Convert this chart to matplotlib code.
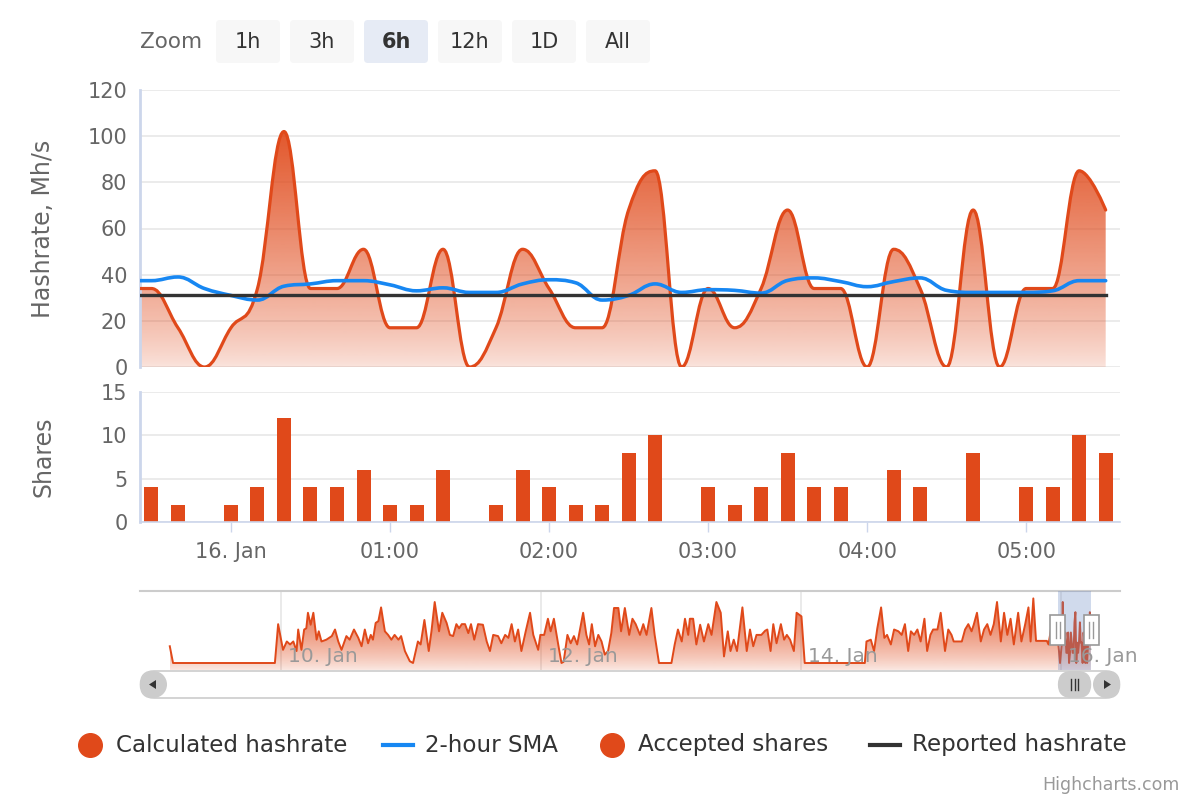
import numpy as np
import matplotlib
matplotlib.use("Agg")
import matplotlib.pyplot as plt
from matplotlib.path import Path
from matplotlib.patches import PathPatch, FancyBboxPatch, Rectangle, Circle, Polygon
from matplotlib.colors import to_rgb

plt.rcParams["font.family"] = ["DejaVu Sans"]

ORANGE = "#e0491a"
BLUE = "#1787f2"
DARK = "#333333"
AXIS_BLUE = "#ccd6eb"
GRID = "#e6e6e6"
LABEL = "#666666"

# 10-minute samples around 16 Jan
times = ["23:20", "23:30", "23:40", "23:50", "00:00", "00:10", "00:20", "00:30",
         "00:40", "00:50", "01:00", "01:10", "01:20", "01:30", "01:40", "01:50",
         "02:00", "02:10", "02:20", "02:30", "02:40", "02:50", "03:00", "03:10",
         "03:20", "03:30", "03:40", "03:50", "04:00", "04:10", "04:20", "04:30",
         "04:40", "04:50", "05:00", "05:10", "05:20", "05:30"]
hashrate = [34, 34, 17, 0, 17, 34, 102, 34, 34, 51, 17, 17, 51, 0, 17, 51,
            34, 17, 17, 68, 85, 0, 34, 17, 34, 68, 34, 34, 0, 51, 34, 0,
            68, 0, 34, 34, 85, 68]
sma_2h = [37.4, 37.4, 39, 34, 31, 29, 35, 36, 37.4, 37.4, 35.6, 33, 34.3, 32.3,
          32.3, 36, 37.8, 36.5, 29, 31, 36, 32.3, 33.5, 33.2, 32, 37.5, 38.6, 37,
          34.8, 37, 38.6, 33.2, 32.3, 32.3, 32.3, 33, 37.4, 37.4]
reported = [31, 31, 31, 31, 31, 31, 31, 31, 31, 31, 31, 31, 31, 31, 31, 31, 31, 31, 31,
            31, 31, 31, 31, 31, 31, 31, 31, 31, 31, 31, 31, 31, 31, 31, 31, 31, 31, 31]
shares = [4, 4, 2, 0, 2, 4, 12, 4, 4, 6, 2, 2, 6, 0, 2, 6, 4, 2, 2, 8, 10, 0,
          4, 2, 4, 8, 4, 4, 0, 6, 4, 0, 8, 0, 4, 4, 10, 8]

x_ticks = [0, 1, 2, 3, 4, 5]
x_ticklabels = ["16. Jan", "01:00", "02:00", "03:00", "04:00", "05:00"]
x_min, x_max = -0.572, 5.59          # visible window (hours from 16 Jan 00:00)

# navigator history (hours from 16 Jan 00:00, Mh/s)
nav_hours = [
    -164.5, -163.9, -145.1, -144.5, -143.6, -142.9, -142.3, -141.7, -141.1, -140.8,
    -140.2, -139.7, -139.3, -139.0, -138.5, -138.0, -137.4, -137.0, -136.5, -135.6,
    -134.6, -134.0, -133.4, -132.8, -131.9, -131.3, -130.5, -129.7, -129.1, -128.5,
    -127.9, -127.4, -127.0, -126.5, -126.0, -125.5, -124.8, -124.2, -123.6, -123.0,
    -122.3, -121.8, -121.1, -120.2, -119.6, -118.7, -118.2, -117.5, -116.7, -116.2,
    -115.6, -114.8, -114.2, -113.4, -112.8, -112.2, -111.6, -111.1, -110.6, -110.0,
    -109.4, -108.9, -108.3, -107.6, -106.7, -106.0, -105.4, -104.8,
    -103.9, -103.3, -102.6, -102.0, -101.4, -100.8, -100.2, -99.6, -98.8, -98.0,
    -97.4, -96.5, -96.1, -95.4, -94.7, -94.2, -93.6, -92.8, -92.2, -91.8,
    -91.1, -90.5, -89.9, -89.3, -88.2, -87.6, -87.1, -86.6, -86.0, -85.4,
    -84.8, -84.2, -83.6, -83.0, -82.5, -81.7, -81.2, -80.5, -79.7, -79.1,
    -78.5, -77.7, -77.1, -76.5, -75.6, -75.0, -74.2, -71.9, -71.3, -70.7,
    -70.0, -69.4, -68.8, -68.5, -67.9, -67.3, -66.6, -65.9, -65.1, -64.5,
    -63.6, -62.8, -62.2, -61.5, -61.0, -60.4, -59.8, -58.8, -58.0, -57.4,
    -56.8, -56.2, -55.3, -54.6, -54.2, -53.6, -53.1, -52.5, -51.7, -51.1,
    -50.6, -50.0, -49.3, -48.8, -47.9, -47.3,
    -36.2, -35.9, -35.1, -34.5, -33.9, -33.2, -32.6, -32.1, -31.4, -30.8,
    -30.0, -29.4, -28.8, -28.2, -27.7, -27.1, -26.5, -25.9, -25.2, -24.7,
    -24.1, -23.6, -22.8, -22.2, -21.4, -20.8, -20.2, -19.8, -18.3, -17.7,
    -17.1, -16.5, -16.1, -15.5, -14.8, -14.2, -13.6, -13.0, -12.4, -11.8,
    -11.1, -10.5, -9.9, -9.3, -8.7, -7.9, -7.3, -6.6, -6.0, -5.6,
    -5.1, -4.6, -2.6, -2.3, -1.7, -0.8,
]
nav_values = [
    28, 0, 0, 65, 22, 36, 31, 36, 20, 56,
    22, 56, 58, 84, 64, 84, 39, 53, 36, 39,
    45, 56, 36, 22, 45, 39, 56, 42, 28, 56,
    33, 47, 39, 67, 70, 93, 53, 47, 39, 47,
    39, 45, 20, 3, 0, 36, 31, 72, 20, 53,
    102, 53, 84, 67, 47, 45, 65, 58, 65, 65,
    50, 65, 39, 65, 64, 36, 20, 47,
    45, 33, 47, 42, 65, 36, 56, 20, 53, 84,
    47, 22, 47, 47, 74, 53, 74, 31, 0, 2,
    47, 33, 45, 31, 84, 47, 31, 65, 28, 47,
    36, 14, 20, 50, 92, 92, 53, 92, 47, 74,
    65, 47, 65, 47, 92, 47, 0, 0, 31, 56,
    36, 74, 47, 74, 74, 31, 64, 36, 65, 47,
    102, 84, 11, 53, 20, 39, 20, 93, 20, 56,
    28, 47, 47, 54, 56, 20, 65, 33, 65, 39,
    47, 39, 20, 84, 78, 0,
    0, 36, 39, 20, 58, 93, 42, 47, 31, 56,
    53, 47, 65, 20, 53, 47, 56, 36, 74, 20,
    47, 56, 56, 84, 20, 56, 47, 36, 36, 56,
    65, 53, 64, 84, 36, 56, 65, 47, 65, 102,
    36, 84, 47, 74, 31, 84, 36, 65, 93, 36,
    108, 37, 37, 31, 64, 70,
]
nav_ticks = [-144, -96, -48, 0]
nav_ticklabels = ["10. Jan", "12. Jan", "14. Jan", "16. Jan"]
nav_lo, nav_hi = -170.0, 10.9

zoom_buttons = ["1h", "3h", "6h", "12h", "1D", "All"]
selected_button = "6h"
legend_items = ["Calculated hashrate", "2-hour SMA", "Accepted shares", "Reported hashrate"]


def to_hours(s):
    h, m = map(int, s.split(":"))
    return h + m / 60 - (24 if h >= 12 else 0)


def spline_path(xs, ys):
    # highcharts-style spline control points
    xs = np.asarray(xs, float)
    ys = np.asarray(ys, float)
    n = len(xs)
    rc = [None] * n
    verts = [(xs[0], ys[0])]
    codes = [Path.MOVETO]
    sm, den = 1.5, 2.5
    for i in range(1, n):
        px, py = xs[i], ys[i]
        lc = (px, py)
        if i < n - 1:
            lx, ly, nx, ny = xs[i - 1], ys[i - 1], xs[i + 1], ys[i + 1]
            lcx, lcy = (sm * px + lx) / den, (sm * py + ly) / den
            rcx, rcy = (sm * px + nx) / den, (sm * py + ny) / den
            corr = 0.0
            if rcx != lcx:
                corr = (rcy - lcy) * (rcx - px) / (rcx - lcx) + py - rcy
            lcy += corr
            rcy += corr
            if lcy > ly and lcy > py:
                lcy = max(ly, py); rcy = 2 * py - lcy
            elif lcy < ly and lcy < py:
                lcy = min(ly, py); rcy = 2 * py - lcy
            if rcy > ny and rcy > py:
                rcy = max(ny, py); lcy = 2 * py - rcy
            elif rcy < ny and rcy < py:
                rcy = min(ny, py); lcy = 2 * py - rcy
            rc[i] = (rcx, rcy)
            lc = (lcx, lcy)
        c1 = rc[i - 1] if rc[i - 1] is not None else (xs[i - 1], ys[i - 1])
        verts += [c1, lc, (px, py)]
        codes += [Path.CURVE4] * 3
    return verts, codes


def gradient_area(ax, verts, codes, x0, x1, base, top, a_top, a_bot):
    verts = list(verts) + [(x1, base), (x0, base), verts[0]]
    codes = list(codes) + [Path.LINETO, Path.LINETO, Path.CLOSEPOLY]
    clip = PathPatch(Path(verts, codes), facecolor="none", edgecolor="none")
    ax.add_patch(clip)
    img = np.zeros((256, 1, 4))
    img[..., :3] = to_rgb(ORANGE)
    img[:, 0, 3] = a_bot + (a_top - a_bot) * np.linspace(0, 1, 256) ** 0.8
    im = ax.imshow(img, extent=[x0, x1, base, top], origin="lower", aspect="auto",
                   interpolation="bilinear", zorder=1)
    im.set_clip_path(clip)


t = np.array([to_hours(s) for s in times])

fig = plt.figure(figsize=(12, 8), dpi=100)
ax = fig.add_axes([140 / 1200, 1 - 367 / 800, 980 / 1200, 277 / 800])
ax2 = fig.add_axes([140 / 1200, 1 - 522 / 800, 980 / 1200, 130 / 800])
axn = fig.add_axes([140 / 1200, 1 - 670 / 800, 980 / 1200, 79 / 800])

# --- hashrate panel
hv, hc = spline_path(t, hashrate)
gradient_area(ax, hv, hc, t[0], t[-1], 0, max(hashrate), 0.92, 0.15)
ax.add_patch(PathPatch(Path(hv, hc), fill=False, edgecolor=ORANGE, lw=2.3, zorder=3,
                       joinstyle="round", capstyle="round"))
sv, sc = spline_path(t, sma_2h)
ax.add_patch(PathPatch(Path(sv, sc), fill=False, edgecolor=BLUE, lw=2.6, zorder=4,
                       joinstyle="round", capstyle="round"))
ax.plot(t, reported, color=DARK, lw=2.4, zorder=5)
ax.set_xlim(x_min, x_max)
ax.set_ylim(0, 120)
ax.set_yticks([0, 20, 40, 60, 80, 100, 120])
ax.set_xticks([])
ax.set_ylabel("Hashrate, Mh/s", fontsize=17, color=LABEL, va="center")
ax.yaxis.set_label_coords(-97 / 980, 0.5)

# --- shares panel
ax2.bar(t, shares, width=0.088, color=ORANGE, zorder=2)
ax2.set_xlim(x_min, x_max)
ax2.set_ylim(0, 15)
ax2.set_yticks([0, 5, 10, 15])
ax2.set_xticks(x_ticks)
ax2.set_xticklabels(x_ticklabels)
ax2.set_ylabel("Shares", fontsize=17, color=LABEL, va="center")
ax2.yaxis.set_label_coords(-97 / 980, 0.5)
ax2.tick_params(axis="x", length=7.5, width=1, color=AXIS_BLUE, pad=7)
ax2.spines["bottom"].set_color(AXIS_BLUE)
ax2.spines["bottom"].set_linewidth(1.2)

for a in (ax, ax2):
    a.set_axisbelow(True)
    a.grid(axis="y", color=GRID, lw=1.1)
    for s in ("top", "right"):
        a.spines[s].set_visible(False)
    a.spines["left"].set_color(AXIS_BLUE)
    a.spines["left"].set_linewidth(2)
    a.tick_params(axis="y", length=0, pad=9, labelsize=15, labelcolor=LABEL)
    a.tick_params(axis="x", labelsize=15, labelcolor=LABEL)
ax.spines["bottom"].set_visible(False)

# --- navigator
nx = list(nav_hours) + list(t)
ny = list(nav_values) + list(hashrate)
nbase = -11.7
lin_v = list(zip(nx, ny))
lin_c = [Path.MOVETO] + [Path.LINETO] * (len(lin_v) - 1)
gradient_area(axn, lin_v, lin_c, nx[0], nx[-1], nbase, max(ny), 0.85, 0.12)
axn.plot(nx, ny, color=ORANGE, lw=1.4, zorder=3)
for tk, lbl in zip(nav_ticks, nav_ticklabels):
    axn.axvline(tk, color=GRID, lw=1.2, zorder=0.5)
    axn.annotate(lbl, xy=(tk, 0), xycoords=("data", "axes fraction"), xytext=(5, 3),
                 textcoords="offset points", ha="left", va="bottom", fontsize=14.5,
                 color="#999999", zorder=6, annotation_clip=False)
axn.axvspan(x_min, x_max, color=(102 / 255, 133 / 255, 194 / 255), alpha=0.3, lw=0, zorder=4)
axn.set_xlim(nav_lo, nav_hi)
axn.set_ylim(nbase, 120.4)
axn.set_xticks([])
axn.set_yticks([])
for s in ("left", "right", "bottom"):
    axn.spines[s].set_visible(False)
axn.spines["top"].set_color("#cccccc")
axn.spines["top"].set_linewidth(1.5)

# --- overlay in pixel units: zoom buttons, navigator handles, scrollbar, legend
deco = fig.add_axes([0, 0, 1, 1])
deco.set_xlim(0, 1200)
deco.set_ylim(800, 0)
deco.axis("off")


def nav_px(h):
    return 140 + (h - nav_lo) / (nav_hi - nav_lo) * 980


deco.text(171, 42, "Zoom", ha="center", va="center", fontsize=15.5, color=LABEL)
for i, lbl in enumerate(zoom_buttons):
    bx = 216 + i * 74
    sel = lbl == selected_button
    deco.add_patch(FancyBboxPatch((bx, 20), 64, 43, boxstyle="round,pad=0,rounding_size=4",
                                  fc="#e6ebf5" if sel else "#f7f7f7", ec="none"))
    deco.text(bx + 32, 41.5, lbl, ha="center", va="center", fontsize=15, color=DARK,
              fontweight="bold" if sel else "normal")

sel_lo, sel_hi = nav_px(x_min), nav_px(x_max)
for hx in (sel_lo, sel_hi):
    deco.add_patch(Rectangle((hx - 7.5, 615), 15, 30, fc="white", ec="#999999", lw=1.2, zorder=5))
    deco.plot([hx - 2, hx - 2], [622, 638], color="#999999", lw=1, zorder=6)
    deco.plot([hx + 2, hx + 2], [622, 638], color="#999999", lw=1, zorder=6)

deco.add_patch(FancyBboxPatch((140.5, 671), 979, 27, boxstyle="round,pad=0,rounding_size=13.5",
                              fc="white", ec="#cccccc", lw=1.2))
deco.add_patch(Circle((153.5, 684.5), 13.5, fc="#cccccc", ec="none"))
deco.add_patch(Circle((1106.5, 684.5), 13.5, fc="#cccccc", ec="none"))
deco.add_patch(FancyBboxPatch((sel_lo, 671), sel_hi - sel_lo, 27,
                              boxstyle="round,pad=0,rounding_size=13.5", fc="#cccccc", ec="none"))
for dx in (-3.5, 0, 3.5):
    cx = (sel_lo + sel_hi) / 2 + dx
    deco.plot([cx, cx], [679, 690], color=DARK, lw=1)
deco.add_patch(Polygon([(149, 684.5), (156, 680), (156, 689)], closed=True, fc=DARK, ec="none"))
deco.add_patch(Polygon([(1111, 684.5), (1104, 680), (1104, 689)], closed=True, fc=DARK, ec="none"))

# legend
ly = 745
deco.plot(90, ly, "o", ms=17, color=ORANGE)
deco.text(116, ly, legend_items[0], va="center", fontsize=16.6, color=DARK)
deco.plot([383, 413], [ly, ly], color=BLUE, lw=3)
deco.text(425, ly, legend_items[1], va="center", fontsize=16.6, color=DARK)
deco.plot(612, ly, "o", ms=17, color=ORANGE)
deco.text(638, ly, legend_items[2], va="center", fontsize=16.6, color=DARK)
deco.plot([870, 900], [ly, ly], color=DARK, lw=3)
deco.text(912, ly, legend_items[3], va="center", fontsize=16.6, color=DARK)

deco.text(1180, 785, "Highcharts.com", ha="right", va="center", fontsize=12.5, color="#999999")

fig.savefig("out.png", dpi=100)
